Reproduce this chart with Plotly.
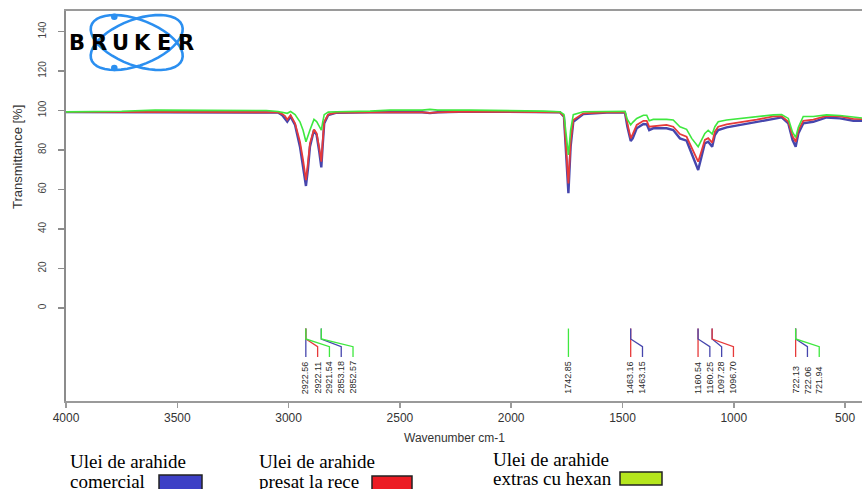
import math
import plotly.graph_objects as go

# ---------------- data ----------------
wavenumber = [4000, 3750, 3600, 3300, 3100, 3048, 3030, 3016, 3006, 2991, 2971, 2949, 2935,
              2922, 2913, 2904, 2886, 2874, 2862, 2853, 2847, 2840, 2822, 2784, 2634, 2544,
              2400, 2365, 2330, 2185, 1856, 1781, 1763, 1751, 1743, 1733, 1721, 1676, 1571,
              1489, 1478, 1463, 1454, 1436, 1406, 1391, 1380, 1362, 1302, 1272, 1242, 1212,
              1189, 1160, 1145, 1130, 1115, 1097, 1085, 1070, 1032, 972, 897, 822, 785, 755,
              736, 722, 710, 688, 643, 583, 523, 463, 424]

t_comercial = [99.2, 99.2, 99.2, 99.2, 99.2, 99.0, 97.8, 96.0, 94.3, 96.9, 92.7, 81.7, 72.0,
               61.8, 70.5, 81.7, 90.1, 87.6, 79.0, 71.2, 82.0, 93.5, 97.7, 98.9, 99.1, 99.2,
               99.1, 98.7, 99.1, 99.5, 99.4, 99.1, 96.9, 73.2, 58.1, 81.7, 94.3, 98.2, 99.0,
               99.0, 91.8, 84.6, 85.9, 91.0, 93.2, 93.0, 90.1, 91.0, 91.0, 90.1, 85.9, 84.7,
               78.3, 69.9, 76.6, 83.4, 84.2, 81.7, 87.6, 90.1, 91.5, 92.7, 94.3, 96.0, 96.5, 93.5,
               85.0, 81.7, 88.4, 93.5, 94.3, 96.5, 96.0, 94.8, 94.8]

t_presat = [99.3, 99.3, 99.3, 99.3, 99.3, 99.1, 98.3, 97.2, 95.4, 97.7, 93.5, 84.2, 75.0,
            64.8, 73.5, 83.4, 90.4, 88.4, 81.0, 74.1, 84.0, 94.3, 98.0, 99.0, 99.1, 99.2,
            99.1, 98.8, 99.1, 99.5, 99.4, 99.1, 97.0, 76.5, 63.1, 84.2, 95.2, 98.6, 99.1,
            99.1, 93.0, 85.9, 88.0, 92.7, 94.8, 94.8, 91.8, 92.0, 92.7, 91.8, 88.1, 86.7,
            80.9, 74.1, 79.5, 85.1, 86.0, 83.7, 89.3, 91.8, 93.0, 94.0, 95.4, 97.0, 97.2, 94.3,
            87.0, 84.2, 90.0, 94.8, 95.4, 97.3, 97.0, 95.8, 95.6]

t_hexan = [99.3, 99.6, 100.2, 100.2, 100.0, 99.5, 99.2, 99.0, 98.6, 99.5, 98.0, 94.3, 90.0,
           84.2, 87.5, 90.1, 95.5, 94.4, 92.0, 90.1, 94.0, 97.9, 99.2, 99.4, 99.7, 100.2,
           100.2, 100.6, 100.2, 100.2, 99.7, 99.4, 98.0, 85.0, 77.5, 90.1, 97.9, 99.4, 99.6,
           99.6, 95.5, 92.7, 94.0, 96.0, 97.6, 97.6, 94.8, 95.5, 95.5, 95.2, 91.8, 90.5,
           85.9, 81.7, 85.0, 88.4, 90.0, 88.1, 91.8, 94.3, 95.2, 95.9, 97.0, 97.8, 97.9, 96.0,
           89.0, 86.4, 91.5, 97.0, 97.0, 97.8, 97.5, 96.5, 96.2]

series_line1 = ["Ulei de arahide", "Ulei de arahide", "Ulei de arahide"]
series_line2 = ["comercial", "presat la rece", "extras cu hexan"]

peak_wn = [2922.56, 2922.11, 2921.54, 2853.18, 2852.57, 1742.85, 1463.16, 1463.15,
           1160.54, 1160.25, 1097.28, 1096.70, 722.13, 722.06, 721.94]
peak_text = ["2922.56", "2922.11", "2921.54", "2853.18", "2852.57", "1742.85", "1463.16",
             "1463.15", "1160.54", "1160.25", "1097.28", "1096.70", "722.13", "722.06", "721.94"]
peak_series = [0, 1, 2, 0, 2, 2, 1, 0, 1, 0, 0, 1, 1, 0, 2]
peak_group = [0, 0, 0, 1, 1, 2, 3, 3, 4, 4, 5, 5, 6, 6, 6]

x_ticks = [4000, 3500, 3000, 2500, 2000, 1500, 1000, 500]
y_ticks = [0, 20, 40, 60, 80, 100, 120, 140]

# ---------------- styling ----------------
line_colors = ["#4646ad", "#e63a3a", "#3fe83f"]
line_widths = [2.4, 1.8, 1.6]
box_colors = ["#3d40c6", "#ec1c24", "#b5e61d"]
SANS = "Liberation Sans, Arial, sans-serif"
SERIF = "Liberation Serif, Times New Roman, serif"

W, H = 862, 489
PL, PT, PW, PH = 66, 11, 796, 390          # plot area in pixels


def pxx(px):
    return (px - PL) / PW


def pyy(py):
    return (PT + PH - py) / PH


fig = go.Figure()

series = [t_comercial, t_presat, t_hexan]
for i, ys in enumerate(series):
    fig.add_trace(go.Scatter(x=wavenumber, y=ys, mode="lines",
                             line=dict(color=line_colors[i], width=line_widths[i]),
                             hoverinfo="skip", showlegend=False))

# ---------------- peak pick marks ----------------
Y_TOP, Y_KNEE, Y_SLANT, Y_BOT, Y_LAB = -10.4, -15.7, -19.6, -24.8, -44.0
spacing = 53.0
label_x = []
prev = None
for w in peak_wn:
    lx = w if prev is None else min(w, prev - spacing)
    label_x.append(lx)
    prev = lx

stem = {}
for g, w in zip(peak_group, peak_wn):
    stem.setdefault(g, w)

annotations = []
for k in range(len(peak_wn)):
    sx = stem[peak_group[k]]
    lx = label_x[k]
    fig.add_trace(go.Scatter(
        x=[sx, sx, lx, lx], y=[Y_TOP, Y_KNEE, Y_SLANT if lx != sx else Y_KNEE, Y_BOT],
        mode="lines", line=dict(color=line_colors[peak_series[k]], width=1.3),
        hoverinfo="skip", showlegend=False))
    annotations.append(dict(x=lx, y=Y_LAB, xref="x", yref="y", text=peak_text[k],
                            textangle=-90, showarrow=False, xanchor="center",
                            yanchor="bottom", borderpad=0,
                            font=dict(family=SANS, size=9, color="#2a2a2a")))

# ---------------- axis titles ----------------
annotations.append(dict(x=pxx(17), y=pyy(157), xref="paper", yref="paper",
                        text="Transmittance [%]", textangle=-90, showarrow=False,
                        xanchor="center", yanchor="middle",
                        font=dict(family=SANS, size=13, color="#333")))
annotations.append(dict(x=pxx(454), y=pyy(438), xref="paper", yref="paper",
                        text="Wavenumber cm-1", showarrow=False,
                        xanchor="center", yanchor="middle",
                        font=dict(family=SANS, size=12, color="#333")))

# ---------------- custom legend ----------------
leg_x = [68, 257, 491]
leg_y1 = [461.5, 462, 459.5]
leg_y2 = [481, 481.5, 478.5]
boxes = [(159, 475, 202, 492), (372, 476, 412, 492), (620, 472, 662, 485)]
shapes = []
for i in range(3):
    annotations.append(dict(x=pxx(leg_x[i]), y=pyy(leg_y1[i]), xref="paper", yref="paper",
                            text=series_line1[i], showarrow=False, xanchor="left",
                            yanchor="middle", font=dict(family=SERIF, size=19, color="#000")))
    annotations.append(dict(x=pxx(leg_x[i]), y=pyy(leg_y2[i]), xref="paper", yref="paper",
                            text=series_line2[i], showarrow=False, xanchor="left",
                            yanchor="middle", font=dict(family=SERIF, size=19, color="#000")))
    x0, y0, x1, y1 = boxes[i]
    shapes.append(dict(type="rect", xref="paper", yref="paper",
                       x0=pxx(x0), x1=pxx(x1), y0=pyy(y1), y1=pyy(y0),
                       fillcolor=box_colors[i], line=dict(color="#222", width=1.5)))

# ---------------- BRUKER logo ----------------
cx, cy, a, b = 136.7, 42.5, 48.5, 22.8
for ang in (21, -21):
    th = math.radians(ang)
    pts = []
    for d in range(0, 361, 8):
        t = math.radians(d)
        ex = cx + a * math.cos(t) * math.cos(th) - b * math.sin(t) * math.sin(th)
        ey = cy + a * math.cos(t) * math.sin(th) + b * math.sin(t) * math.cos(th)
        pts.append((pxx(ex), pyy(ey)))
    path = "M " + " L ".join(f"{x:.5f},{y:.5f}" for x, y in pts) + " Z"
    shapes.append(dict(type="path", xref="paper", yref="paper", path=path,
                       line=dict(color="#2b8ff0", width=2.6)))
for dx, dy in ((114.3, 16.7), (114.3, 68.0)):
    r = 3.3
    shapes.append(dict(type="circle", xref="paper", yref="paper",
                       x0=pxx(dx - r), x1=pxx(dx + r), y0=pyy(dy + r), y1=pyy(dy - r),
                       fillcolor="#2b8ff0", line=dict(color="#2b8ff0", width=0)))
for i, ch in enumerate("BRUKER"):
    annotations.append(dict(x=pxx(77 + i * 21.8), y=pyy(42.5), xref="paper", yref="paper",
                            text=f"<b>{ch}</b>", showarrow=False, xanchor="center",
                            yanchor="middle",
                            font=dict(family="DejaVu Sans", size=21, color="#000")))

fig.update_layout(
    width=W, height=H,
    margin=dict(l=PL, r=W - PL - PW, t=PT, b=H - PT - PH, pad=0, autoexpand=False),
    paper_bgcolor="white", plot_bgcolor="white",
    hovermode=False,
    annotations=annotations, shapes=shapes,
    xaxis=dict(range=[4000, 424], showline=True, linecolor="#9a9a9a", linewidth=1.6,
               mirror=True, ticks="outside", ticklen=5, tickcolor="#9a9a9a", tickwidth=1.5,
               tickvals=x_ticks, ticktext=[str(v) for v in x_ticks], showgrid=False,
               zeroline=False, tickfont=dict(family=SANS, size=12, color="#333"),
               ticklabelstandoff=0, automargin=False),
    yaxis=dict(range=[-47.1, 150.4], showline=True, linecolor="#8c8c8c", linewidth=2,
               ticks="outside", ticklen=6, tickcolor="#8c8c8c", tickwidth=1.5,
               tickvals=y_ticks, ticktext=[str(v) for v in y_ticks], tickangle=-90,
               showgrid=False, zeroline=False,
               tickfont=dict(family=SANS, size=10, color="#444"), ticklabelstandoff=8,
               automargin=False),
)

fig.write_html("out.html",
               config={"displayModeBar": False, "staticPlot": True},
               post_script="document.body.style.margin='0px';"
                           "document.body.style.overflow='hidden';")
